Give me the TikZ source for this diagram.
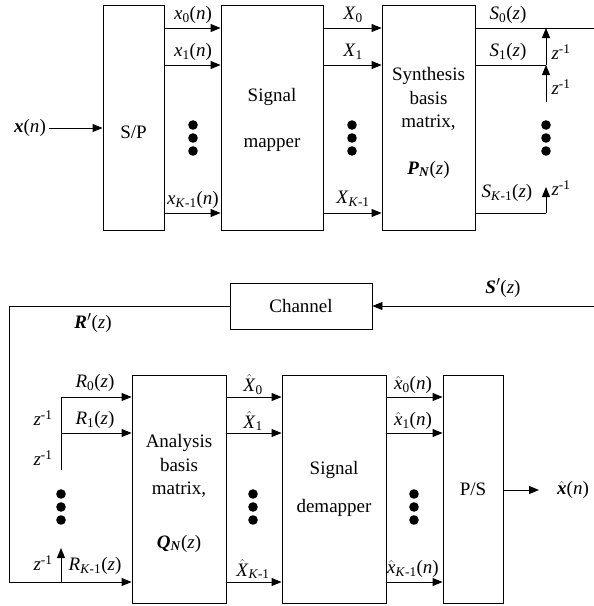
\documentclass[tikz,border=0pt]{standalone}
\usepackage{fontspec}
\setmainfont{Liberation Serif}
\usetikzlibrary{arrows.meta,positioning}
\newcommand{\vi}[1]{\textit{#1}}
\newcommand{\vb}[1]{\textbf{\textit{#1}}}
\newcommand{\lo}[1]{\textsubscript{#1}}
\newcommand{\zinv}{\vi{z}\textsuperscript{-1}}
\newcommand{\hatof}[1]{$\hat{\mbox{#1}}$}

\begin{document}
\begin{tikzpicture}[x=1pt,y=-1pt,
  every node/.style={font=\fontsize{19}{23.5}\selectfont},
  blk/.style={draw,line width=0.9pt,inner sep=0pt,align=center},
  sig/.style={line width=0.9pt,-{Triangle[length=10pt,width=8pt]}},
  wire/.style={line width=0.9pt}]
\useasboundingbox (0,0) rectangle (594,606);

% transmitter
\node[blk,minimum width=61pt,minimum height=225pt,
  label={[name=sptxt,yshift=-15pt]center:S/P}] (sp) at (133.5,117.5) {};
\node[blk,minimum width=102pt,minimum height=225pt] (map) at (272,117.5) {\rule{0pt}{18pt}Signal\\[23pt]mapper};
\node[blk,minimum width=93pt,minimum height=225pt] (syn) at (428.5,117.5) {\rule{0pt}{24pt}Synthesis\\basis\\matrix,\\[23pt]\vb{P}\lo{\vb{N}}(\vi{z})};

\coordinate (t0) at (0,28);
\coordinate (t1) at (0,65);
\coordinate (t2) at (0,213);

\node (xin) at (30,128) {\vb{x}(\vi{n})};
\draw[sig] (xin.east) -- (sp.west |- xin);

\foreach \a/\b in {sp/map, map/syn}
  \foreach \r in {t0,t1,t2}
    \draw[sig] (\a.east |- \r) -- (\b.west |- \r);

\node (lx0) at (193,15) {\vi{x}\lo{0}(\vi{n})};
\node (lx1) at (193,52) {\vi{x}\lo{1}(\vi{n})};
\node (lx2) at (193,200) {\vi{x}\lo{\vi{K}-1}(\vi{n})};
\node (lX0) at (353,15) {\vi{X}\lo{0}};
\node (lX1) at (353,52) {\vi{X}\lo{1}};
\node (lX2) at (353,199) {\vi{X}\lo{\vi{K}-1}};

% delay chain, transmitter side
\coordinate (send) at (594,28);
\coordinate (d0) at (546,28);
\coordinate (d1) at (546,65);
\coordinate (d1b) at (546,102);
\coordinate (d2) at (546,213);
\coordinate (d2b) at (546,187);
\draw[wire] (syn.east |- t0) -- (send);
\draw[wire] (syn.east |- t1) -- (d1);
\draw[wire] (syn.east |- t2) -- (d2);
\draw[sig] (d1) -- (d0);
\draw[sig] (d1b) -- (d1);
\draw[sig] (d2) -- (d2b);

\node (lS0) at (508,15) {\vi{S}\lo{0}(\vi{z})};
\node (lS1) at (508,52) {\vi{S}\lo{1}(\vi{z})};
\node (lS2) at (507,193) {\vi{S}\lo{\vi{K}-1}(\vi{z})};
\node (zt0) at (561,52) {\zinv};
\node (zt1) at (561,87) {\zinv};
\node (zt2) at (561,188) {\zinv};

\foreach \dx in {193,352,546}
  \foreach \dy in {125,138,151}
    \fill (\dx,\dy) circle (4.8pt);

% channel
\node[blk,minimum width=142pt,minimum height=46pt] (chan) at (301,306) {Channel};
\coordinate (sin) at (594,306);
\coordinate (lc) at (9,306);
\coordinate (bc) at (9,582);
\node (lSp) at (503,288) {\vb{S$'$}(\vi{z})};
\node (lRp) at (93,323) {\vb{R$'$}(\vi{z})};
\draw[sig] (sin) -- (chan.east |- sin);

% receiver
\node[blk,minimum width=94pt,minimum height=228pt] (ana) at (179,489) {\rule{0pt}{22pt}Analysis\\basis\\matrix,\\[30pt]\vb{Q}\lo{\vb{N}}(\vi{z})};
\node[blk,minimum width=104pt,minimum height=228pt] (dem) at (334,489) {Signal\\[15pt]demapper};
\node[blk,minimum width=60pt,minimum height=228pt] (ps) at (473,489) {P/S};

\coordinate (b0) at (0,397);
\coordinate (b1) at (0,433);
\coordinate (b2) at (0,582);

\draw[sig] (chan.west) -- (lc) -- (bc) -- (ana.west |- b2);

\foreach \a/\b in {ana/dem, dem/ps}
  \foreach \r in {b0,b1,b2}
    \draw[sig] (\a.east |- \r) -- (\b.west |- \r);

% delay chain, receiver side
\coordinate (f0) at (61,397);
\coordinate (f1) at (61,433);
\coordinate (fend) at (61,470);
\coordinate (f2) at (61,582);
\coordinate (f2b) at (61,548);
\draw[wire] (f0) -- (fend);
\draw[sig] (f0) -- (ana.west |- f0);
\draw[sig] (f1) -- (ana.west |- f1);
\draw[sig] (f2) -- (f2b);

\node (lR0) at (95,383) {\vi{R}\lo{0}(\vi{z})};
\node (lR1) at (95,420) {\vi{R}\lo{1}(\vi{z})};
\node (lR2) at (95,566) {\vi{R}\lo{\vi{K}-1}(\vi{z})};
\node (zr0) at (43,418) {\zinv};
\node (zr1) at (43,458) {\zinv};
\node (zr2) at (43,563) {\zinv};

\node (lY0) at (253,385) {\hatof{\vi{X}}\lo{0}};
\node (lY1) at (253,421) {\hatof{\vi{X}}\lo{1}};
\node (lY2) at (253,569) {\hatof{\vi{X}}\lo{\vi{K}-1}};
\node (ly0) at (413,385) {\hatof{\vi{x}}\lo{0}(\vi{n})};
\node (ly1) at (413,421) {\hatof{\vi{x}}\lo{1}(\vi{n})};
\node (ly2) at (413,569) {\hatof{\vi{x}}\lo{\vi{K}-1}(\vi{n})};

\foreach \dx in {61,253,414}
  \foreach \dy in {494,507,520}
    \fill (\dx,\dy) circle (4.8pt);

\coordinate (xout) at (539,490);
\draw[sig] (ps.east |- xout) -- (xout);
\node (xhat) at (573,490) {\hatof{\vb{x}}(\vi{n})};
\end{tikzpicture}
\end{document}
